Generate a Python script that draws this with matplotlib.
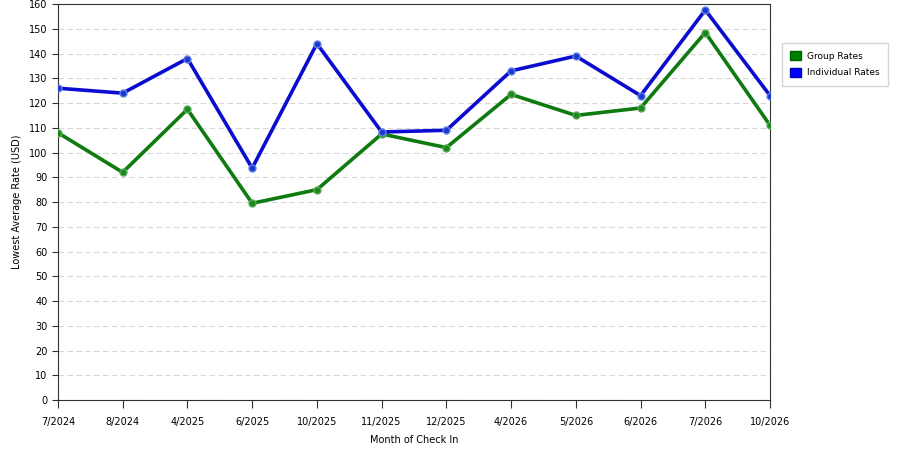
import numpy as np
import matplotlib.pyplot as plt
from matplotlib.patches import Patch

months = ['7/2024', '8/2024', '4/2025', '6/2025', '10/2025', '11/2025',
          '12/2025', '4/2026', '5/2026', '6/2026', '7/2026', '10/2026']
group_rates = [108, 92, 117.5, 79.5, 85, 107.5, 102, 123.5, 115, 118, 148.5, 111]
individual_rates = [126, 124, 138, 93.7, 144, 108.3, 109, 133, 139, 123, 157.6, 123]

fig = plt.figure(figsize=(9, 4.5), dpi=100)
ax = fig.add_axes([0.0644, 0.111, 0.7912, 0.880])

x = np.arange(len(months))
ax.plot(x, group_rates, color='#0f7a0f', lw=2.6, marker='o', ms=5,
        mfc='#1a8a1a', mec='#5aa85a', mew=1, zorder=3)
ax.plot(x, individual_rates, color='#0c0cd0', lw=2.6, marker='o', ms=5,
        mfc='#1a3ad8', mec='#6080e0', mew=1, zorder=4)

ax.set_xlim(0, len(months) - 1)
ax.set_ylim(0, 160)
ax.set_xticks(x)
ax.set_xticklabels(months, fontsize=7)
ax.set_yticks(range(0, 161, 10))
ax.tick_params(axis='y', labelsize=7, length=4, color='#333333')
ax.tick_params(axis='x', length=6, color='#333333', pad=6)
ax.grid(axis='y', color='#d8d8d8', ls=(0, (5, 3)), lw=0.8)
for sp in ax.spines.values():
    sp.set_color('#333333')

ax.set_ylabel('Lowest Average Rate (USD)', fontsize=7, labelpad=5)
ax.set_xlabel('Month of Check In', fontsize=7, labelpad=6)

handles = [Patch(facecolor='#008000', edgecolor='#006000', label='Group Rates'),
           Patch(facecolor='#0000ff', edgecolor='#0000b0', label='Individual Rates')]
fig.legend(handles=handles, loc='upper left', bbox_to_anchor=(0.864, 0.915),
           fontsize=6.5, frameon=True, fancybox=False, edgecolor='#cccccc',
           handlelength=1.2, handleheight=1.2, handletextpad=0.7,
           borderpad=0.9, labelspacing=0.8)

fig.savefig('out.png', dpi=100)
